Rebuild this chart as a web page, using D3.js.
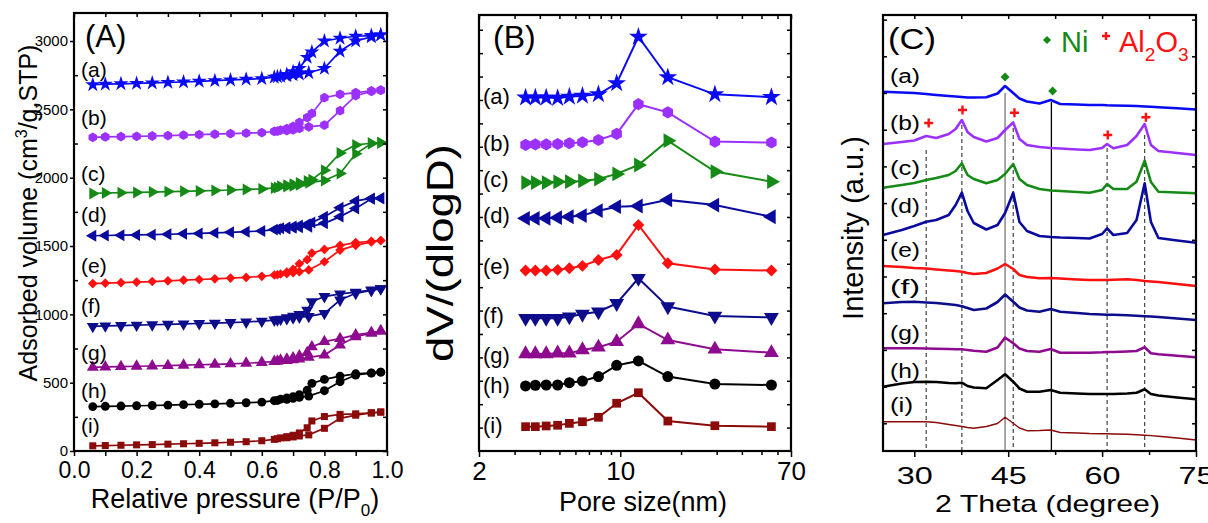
<!DOCTYPE html>
<html><head><meta charset="utf-8">
<script src="https://cdn.jsdelivr.net/npm/d3@7"></script>
<style>body{margin:0;background:#fff}svg{display:block}text{font-family:"Liberation Sans",Arial,Helvetica,sans-serif}</style>
</head><body>
<svg id="chart" width="1208" height="523"></svg>
<script>
// ---------------- shared ----------------
const sampleLabels = ['(a)','(b)','(c)','(d)','(e)','(f)','(g)','(h)','(i)'];
const colors = ['#0a0af5','#9b30ff','#168a16','#0a0a9e','#ff1010','#0d0d8c','#8e0a8e','#000000','#8b0a0a'];

// ---------------- panel A: N2 isotherms ----------------
const adsP = [0.06,0.1,0.15,0.2,0.25,0.3,0.35,0.4,0.45,0.5,0.55,0.6,0.64,0.65,0.68,0.7,0.72,0.75,0.8,0.85,0.9,0.95,0.98];
const desP = [0.98,0.95,0.9,0.85,0.8,0.76,0.745,0.72,0.7,0.68,0.66];
const adsA = [
 [2680,2684,2687,2690,2693,2697,2700,2705,2710,2715,2720,2725,2735,2738,2745,2752,2758,2768,2800,2925,3000,3030,3045],
 [2295,2298,2300,2302,2305,2308,2311,2315,2318,2322,2326,2330,2338,2340,2345,2350,2360,2372,2385,2490,2600,2632,2640],
 [1885,1888,1890,1892,1895,1898,1900,1903,1906,1910,1914,1918,1925,1928,1935,1940,1948,1962,1980,2030,2175,2250,2255],
 [1575,1577,1579,1581,1583,1586,1589,1592,1596,1600,1605,1610,1620,1622,1628,1633,1637,1641,1666,1715,1775,1845,1850],
 [1225,1228,1232,1236,1240,1245,1250,1255,1260,1265,1270,1278,1288,1290,1298,1305,1312,1325,1385,1470,1505,1530,1540],
 [912,915,918,921,924,927,930,933,936,940,944,950,958,960,968,975,980,985,1007,1105,1154,1175,1188],
 [612,615,618,620,622,625,628,631,634,638,642,648,655,657,662,668,672,685,702,775,836,862,878],
 [325,327,329,331,333,336,339,342,345,349,353,358,368,370,378,385,393,402,441,507,556,570,577],
 [38,40,42,45,47,50,53,56,60,64,68,75,85,90,97,103,110,118,166,239,262,278,285]
];
const desA = [
 [3045,3040,3035,3020,3000,2920,2880,2800,2775,2755,2742],
 [2640,2635,2622,2610,2585,2470,2440,2405,2375,2358,2348],
 [2255,2252,2240,2180,2055,1985,1975,1962,1952,1945,1938],
 [1850,1848,1830,1780,1715,1672,1660,1650,1642,1636,1630],
 [1540,1535,1525,1505,1475,1448,1400,1370,1330,1310,1295],
 [1188,1178,1162,1150,1130,1092,1030,1000,987,975,965],
 [878,866,850,822,800,762,720,695,682,672,664],
 [577,572,565,548,524,495,445,412,397,388,380],
 [285,280,272,268,252,220,170,132,115,105,96]
];
const yTicksA = [0,500,1000,1500,2000,2500,3000];

// ---------------- panel B: pore size distribution ----------------
const poreSize = [3.4,3.8,4.3,4.9,5.6,6.5,7.8,9.6,12.3,17.2,29.4,56];
const dvB = [
 [15.1,15.1,15.1,15.08,15.14,15.18,15.24,15.71,17.7,15.97,15.24,15.12],
 [13.08,13.1,13.1,13.12,13.15,13.19,13.29,13.55,14.82,14.47,13.22,13.18],
 [11.47,11.47,11.47,11.5,11.51,11.54,11.62,11.84,12.22,13.26,11.94,11.51],
 [9.94,9.94,9.94,9.97,10.01,10.06,10.27,10.44,10.47,10.73,10.51,10.01],
 [7.71,7.71,7.71,7.74,7.81,7.91,8.16,8.38,9.66,8.02,7.76,7.71],
 [5.67,5.67,5.67,5.67,5.74,5.85,5.95,6.31,7.38,6.17,5.77,5.71],
 [4.15,4.15,4.15,4.18,4.18,4.32,4.43,4.67,5.43,4.74,4.35,4.2],
 [2.78,2.81,2.82,2.82,2.92,2.99,3.18,3.66,3.85,3.18,2.86,2.82],
 [1.04,1.04,1.07,1.1,1.18,1.25,1.44,2.04,2.49,1.28,1.08,1.04]
];
const xTicksBMajor = [2,10,70];
const xTicksBMinor = [3,4,5,6,7,8,9,20,30,40,50,60];

// ---------------- panel C: XRD ----------------
const theta = [25,28,30,31.9,33.5,35.5,36.6,37.6,38.5,39.5,41.5,43.3,44.5,45.8,46.8,48,50,51.8,53.3,56,58,60,60.8,61.8,64,65.5,66.8,67.8,69,72,75];
const xrd = [
 [359.3,358.5,358,357,356,355,354.5,354,353.5,353.5,353.7,357.5,365,358,352.5,349.5,347.5,351,347,346.5,346,346,345.7,345.5,345.3,345,344.5,344.2,343.7,342.7,341.5],
 [307,309,310.5,315,313,317,322,331,319,314,309.5,313,321,328.5,312,306,304,303,302.5,301.5,301,303,307,302.7,306,315,327,306,300,298,296],
 [263.3,266,268,271,273,276,280,287.7,276,272,267.7,271,277,287,272,266,262,260.5,260,259,258.3,261,267,262,262,269.3,290.3,269,259.3,258.5,257.7],
 [216,221,225,229.3,231,236,246,258.3,240,228,221.5,226,238,258.3,229,220,215,214,213.5,213,212.5,217,222.7,216,218,231,267.7,229,213,210.5,208.3],
 [185,184,183,182.5,181.5,180.5,180,179.3,178,177,178,182.5,187,182,176,174,172.7,173,172.5,171.5,171,171,171,171.2,171.7,171,170,169.5,169,167,165],
 [147.7,149,149.3,148.5,148,146.7,146,144.8,143,141,142.5,149,156.5,149.3,143.5,140.5,139.3,142,139.3,138,137,136.5,136.3,136.2,135.7,135.3,134.8,134.5,134,132.5,131],
 [102.7,102.7,102.7,102.5,102.3,102,101.8,101.7,101,100.3,99.3,103.5,113.5,107.7,102.5,100,99.3,102,98.3,98.3,98.3,98.7,99,99,99.5,100,103.7,97.7,96.7,95.2,93.7],
 [64.3,67.5,69,69.3,69,68,67.7,68.3,65,63.5,62.7,71,76.7,69.3,62.5,59.3,59.3,61,58.3,57.5,57,57,57,57,57.5,58.3,61.7,57,55.5,53.5,51.7],
 [29.3,29.3,29.3,29.3,28.5,26.5,25.5,24.5,23.5,22.7,24.5,27.5,33.7,27.7,23,20.3,20.5,21,18.5,18,17.5,17.3,17.2,17,16.7,16.2,15.8,15.4,14.7,13,11]
];
const al2o3Lines = [31.9,37.6,45.8,60.8,66.8];
const al2o3LineTop = [301,326,323,303,316];
const niLines = [44.5,51.9];
const niLineTop = [358,349];
const niMarkTheta = [44.5,52.1];
const niMarkI = [374,360];
const alMarkTheta = [32.3,37.7,46,60.9,67];
const alMarkI = [328,341,338.3,316,333.7];
const xTicksCMajor = [30,45,60,75];
const xTicksCMinor = [37.5,52.5,67.5];

// ---------------- drawing helpers ----------------
const svg = d3.select('#chart');
const hexagon = { draw(ctx, size){ const r = Math.sqrt(2*size/(3*Math.sqrt(3)));
  for(let i=0;i<6;i++){ const a = Math.PI/3*i + Math.PI/6; const x=r*Math.cos(a), y=r*Math.sin(a); if(i) ctx.lineTo(x,y); else ctx.moveTo(x,y);} ctx.closePath(); } };
const markerDefs = [
 {type:d3.symbolStar, rot:0, k:1.15},
 {type:hexagon, rot:0, k:1},
 {type:d3.symbolTriangle, rot:90, k:1},
 {type:d3.symbolTriangle, rot:-90, k:1},
 {type:d3.symbolSquare, rot:45, k:0.75},
 {type:d3.symbolTriangle, rot:180, k:1},
 {type:d3.symbolTriangle, rot:0, k:1},
 {type:d3.symbolCircle, rot:0, k:1},
 {type:d3.symbolSquare, rot:0, k:0.8}
];
function markers(g, pts, i, size){
  const m = markerDefs[i];
  g.selectAll(null).data(pts).join('path')
    .attr('d', d3.symbol(m.type, size*m.k)())
    .attr('transform', d => `translate(${d[0]},${d[1]}) rotate(${m.rot})`)
    .attr('fill', colors[i]);
}
function styleAxis(sel, fs){
  sel.select('.domain').remove();
  sel.selectAll('line').attr('stroke','#000').attr('stroke-width',1.5);
  sel.selectAll('text').attr('font-size',fs).attr('fill','#000')
     .style('font-family','"Liberation Sans",Arial,sans-serif');
  return sel;
}
function box(x0,y0,x1,y1){
  svg.append('rect').attr('x',x0).attr('y',y0).attr('width',x1-x0).attr('height',y1-y0)
    .attr('fill','none').attr('stroke','#000').attr('stroke-width',2.2);
}
function text(x,y,str,fs,opts={}){
  const t = svg.append('text').attr('x',x).attr('y',y).attr('font-size',fs).attr('fill',opts.fill||'#000').text(str);
  if(opts.anchor) t.attr('text-anchor',opts.anchor);
  if(opts.len) t.attr('textLength',opts.len).attr('lengthAdjust','spacingAndGlyphs');
  return t;
}

// ================= PANEL A =================
{
  const L=74,R=387,T=13,B=451;
  const x = d3.scaleLinear().domain([0,1]).range([L,R]);
  const y = d3.scaleLinear().domain([0,3205]).range([B,T]);
  const g = svg.append('g');
  const line = d3.line().x(d=>x(d[0])).y(d=>y(d[1]));
  adsA.forEach((vals,i)=>{
    const ads = adsP.map((p,j)=>[p,vals[j]]);
    const des = desP.map((p,j)=>[p,desA[i][j]]);
    g.append('path').attr('d',line(ads)).attr('fill','none').attr('stroke',colors[i]).attr('stroke-width',1.7);
    g.append('path').attr('d',line(des)).attr('fill','none').attr('stroke',colors[i]).attr('stroke-width',1.7);
    markers(g, ads.concat(des).map(d=>[x(d[0]),y(d[1])]), i, 62);
  });
  styleAxis(svg.append('g').attr('transform',`translate(0,${B})`)
    .call(d3.axisBottom(x).tickValues(d3.range(0,1.001,0.1)).tickSize(5).tickPadding(6)
      .tickFormat((d,i)=> i%2===0 ? d3.format('.1f')(d) : '')), 23);
  styleAxis(svg.append('g').attr('transform',`translate(0,${T})`)
    .call(d3.axisBottom(x).tickValues(d3.range(0,1.001,0.1)).tickSize(4).tickFormat('')), 10);
  styleAxis(svg.append('g').attr('transform',`translate(${L},0)`)
    .call(d3.axisLeft(y).tickValues(yTicksA).tickSize(4).tickPadding(2).tickFormat(d3.format('d'))), 15);
  styleAxis(svg.append('g').attr('transform',`translate(${L},0)`)
    .call(d3.axisRight(y).tickValues(d3.range(250,3201,500)).tickSize(4).tickFormat('')), 10);
  styleAxis(svg.append('g').attr('transform',`translate(${R},0)`)
    .call(d3.axisLeft(y).tickValues(d3.range(0,3201,250)).tickSize(4).tickFormat('')), 10);
  box(L,T,R,B);
  const labY = [71.5,119,175.5,216,267.5,307.5,354,392,427];
  sampleLabels.forEach((s,i)=> text(81, labY[i]+5.5, s, 21));
  text(85, 47, '(A)', 31);
  text(235, 508, null, 27, {anchor:'middle'}).call(t=>{
    t.append('tspan').text('Relative pressure (P/P');
    t.append('tspan').attr('font-size',17).attr('dy',8).text('0');
    t.append('tspan').attr('dy',-8).text(')');
  });
  const yt = svg.append('text').attr('transform','translate(37,213) rotate(-90)').attr('text-anchor','middle').attr('font-size',25);
  yt.append('tspan').text('Adsorbed volume (cm');
  yt.append('tspan').attr('font-size',16).attr('dy',-10).text('3');
  yt.append('tspan').attr('dy',10).text('/g,STP)');
}

// ================= PANEL B =================
{
  const L=479,R=791,T=15,B=451;
  const x = d3.scaleLog().domain([2,70]).range([L,R]);
  const y = d3.scaleLinear().domain([0,18.63]).range([B,T]);
  const g = svg.append('g');
  const line = d3.line().x(d=>x(d[0])).y(d=>y(d[1]));
  dvB.forEach((vals,i)=>{
    const pts = poreSize.map((p,j)=>[p,vals[j]]);
    g.append('path').attr('d',line(pts)).attr('fill','none').attr('stroke',colors[i]).attr('stroke-width',2);
    markers(g, pts.map(d=>[x(d[0]),y(d[1])]), i, 95);
  });
  styleAxis(svg.append('g').attr('transform',`translate(0,${B})`)
    .call(d3.axisBottom(x).tickValues(xTicksBMinor).tickSize(4).tickFormat('')), 10);
  styleAxis(svg.append('g').attr('transform',`translate(0,${B})`)
    .call(d3.axisBottom(x).tickValues(xTicksBMajor).tickSize(6).tickPadding(5).tickFormat(d3.format('d'))), 26);
  styleAxis(svg.append('g').attr('transform',`translate(0,${T})`)
    .call(d3.axisBottom(x).tickValues(xTicksBMinor.concat(xTicksBMajor)).tickSize(4).tickFormat('')), 10);
  styleAxis(svg.append('g').attr('transform',`translate(${L},0)`)
    .call(d3.axisRight(y).tickValues(d3.range(1,19)).tickSize(4).tickFormat('')), 10);
  styleAxis(svg.append('g').attr('transform',`translate(${R},0)`)
    .call(d3.axisLeft(y).tickValues(d3.range(1,19)).tickSize(4).tickFormat('')), 10);
  box(L,T,R,B);
  const labY = [98,144.5,181,217,268,316.5,356.5,387,427];
  sampleLabels.forEach((s,i)=> text(483, labY[i]+6, s, 22));
  text(493, 48, '(B)', 32);
  text(643, 511, 'Pore size(nm)', 27, {anchor:'middle'});
  svg.append('text').attr('transform','translate(453,253) rotate(-90)').attr('text-anchor','middle')
    .attr('font-size',37).attr('textLength',218).attr('lengthAdjust','spacingAndGlyphs').text('dV/(dlogD)');
}

// ================= PANEL C =================
{
  const L=883,R=1196,T=15,B=451;
  const x = d3.scaleLinear().domain([25,75]).range([L,R]);
  const y = d3.scaleLinear().domain([0,436]).range([B,T]);
  const g = svg.append('g');
  al2o3Lines.forEach((t,k)=> g.append('line').attr('x1',x(t)).attr('x2',x(t)).attr('y1',y(al2o3LineTop[k])).attr('y2',y(0))
      .attr('stroke','#333').attr('stroke-width',1.1).attr('stroke-dasharray','4,3'));
  niLines.forEach((t,k)=> g.append('line').attr('x1',x(t)).attr('x2',x(t)).attr('y1',y(niLineTop[k])).attr('y2',y(0))
      .attr('stroke', k===0 ? '#777' : '#000').attr('stroke-width',1.3));
  const line = d3.line().x(d=>x(d[0])).y(d=>y(d[1]));
  xrd.forEach((vals,i)=>{
    g.append('path').attr('d',line(theta.map((t,j)=>[t,vals[j]]))).attr('fill','none')
      .attr('stroke',colors[i]).attr('stroke-width', i===8 ? 1.4 : 2.6).attr('stroke-linejoin','round');
  });
  niMarkTheta.forEach((t,k)=> g.append('path').attr('d',d3.symbol(d3.symbolSquare,40)())
      .attr('transform',`translate(${x(t)},${y(niMarkI[k])}) rotate(45)`).attr('fill','#168a16'));
  alMarkTheta.forEach((t,k)=> g.append('path').attr('d','M-4.5,0H4.5M0,-4.5V4.5')
      .attr('transform',`translate(${x(t)},${y(alMarkI[k])})`).attr('stroke','#ff1010').attr('stroke-width',2.4));
  const yt = d3.range(27.7,436,36.7);
  styleAxis(svg.append('g').attr('transform',`translate(0,${B})`)
    .call(d3.axisBottom(x).tickValues(xTicksCMinor).tickSize(4).tickFormat('')), 10);
  styleAxis(svg.append('g').attr('transform',`translate(0,${B})`)
    .call(d3.axisBottom(x).tickValues(xTicksCMajor).tickSize(6).tickPadding(11).tickFormat(d3.format('d'))), 23)
    .selectAll('text').attr('textLength',36).attr('lengthAdjust','spacingAndGlyphs');
  styleAxis(svg.append('g').attr('transform',`translate(0,${T})`)
    .call(d3.axisBottom(x).tickValues(xTicksCMinor.concat(xTicksCMajor.slice(0,3))).tickSize(4).tickFormat('')), 10);
  styleAxis(svg.append('g').attr('transform',`translate(${L},0)`)
    .call(d3.axisRight(y).tickValues(yt).tickSize(4).tickFormat('')), 10);
  styleAxis(svg.append('g').attr('transform',`translate(${R},0)`)
    .call(d3.axisLeft(y).tickValues(yt).tickSize(4).tickFormat('')), 10);
  box(L,T,R,B);
  const labY = [77.7,124,169,207,251,288,334,372,406];
  sampleLabels.forEach((s,i)=> text(890, labY[i]+5.5, s, 20, {len: s==='(i)' ? 23 : 30}));
  text(888, 49, '(C)', 29, {len:48});
  text(1047.5, 512, '2 Theta (degree)', 24, {anchor:'middle', len:225});
  svg.append('text').attr('transform','translate(863,228) rotate(-90)').attr('text-anchor','middle')
    .attr('font-size',29).text('Intensity (a.u.)');
  // legend
  svg.append('path').attr('d',d3.symbol(d3.symbolSquare,34)()).attr('transform','translate(1047,40) rotate(45)').attr('fill','#168a16');
  text(1061, 52, 'Ni', 29, {fill:'#168a16'});
  svg.append('path').attr('d','M-4,0H4M0,-4V4').attr('transform','translate(1106,36)').attr('stroke','#ff1010').attr('stroke-width',2.4);
  const al = text(1119, 52, null, 29, {fill:'#ff1010'});
  al.append('tspan').text('Al');
  al.append('tspan').attr('font-size',19).attr('dy',9).text('2');
  al.append('tspan').attr('dy',-9).text('O');
  al.append('tspan').attr('font-size',19).attr('dy',9).text('3');
}
</script>
</body></html>
